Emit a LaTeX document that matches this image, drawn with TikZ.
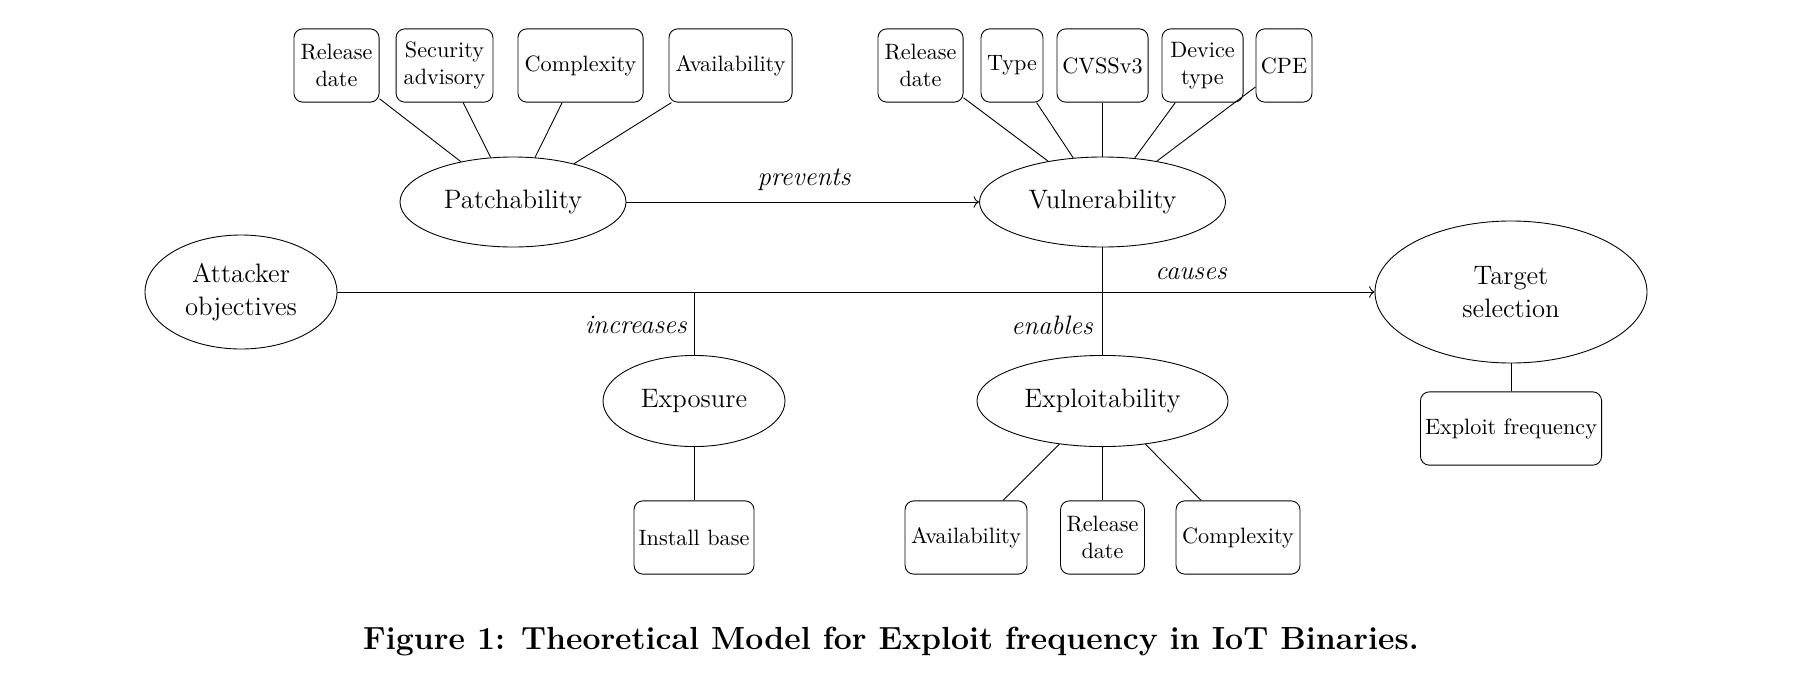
\documentclass[tikz,border=0pt]{standalone}
\usepackage{amsmath}
\usepackage{xcolor}
\usepackage{tikz}
\usetikzlibrary{positioning, arrows.meta, shapes.geometric}

\begin{document}
\begin{tikzpicture}[x=0.45pt, y=-0.45pt,
    concept/.style={draw, ellipse, inner sep=0pt, align=center, font=\fontsize{12}{15}\selectfont},
    attr/.style={draw, rounded corners=4pt, align=center, inner sep=0pt, minimum height=33pt},
    rel/.style={font=\fontsize{12}{14}\selectfont\itshape}]
    \useasboundingbox (0,0) rectangle (1803,683);
    % concepts
    \node[concept, minimum width=101.7pt, minimum height=40.5pt] (patch) at (513,202) {Patchability};
    \node[concept, minimum width=110.7pt, minimum height=40.5pt] (vuln) at (1102.5,202) {Vulnerability};
    \node[concept, minimum width=86.4pt, minimum height=51.3pt] (attacker) at (241,292) {Attacker\\objectives};
    \node[concept, minimum width=122.4pt, minimum height=63.9pt] (target) at (1511,292) {Target\\selection};
    \node[concept, minimum width=81.9pt, minimum height=41pt] (expo) at (694,401) {Exposure};
    \node[concept, minimum width=113pt, minimum height=41pt] (exploit) at (1102.5,401) {Exploitability};
    % attributes of patchability
    \node[attr, minimum width=38.3pt] (p_1) at (336.5,65.5) {Release\\date};
    \node[attr, minimum width=43.6pt] (p_2) at (444.5,65.5) {Security\\advisory};
    \node[attr, minimum width=56.3pt] (p_3) at (580.5,65.5) {Complexity};
    \node[attr, minimum width=55.4pt] (p_4) at (730.5,65.5) {Availability};
    % attributes of vulnerability
    \node[attr, minimum width=38.3pt] (v_1) at (920.5,65.5) {Release\\date};
    \node[attr, minimum width=27.9pt] (v_2) at (1012,65.5) {Type};
    \node[attr, minimum width=41pt] (v_3) at (1102.5,65.5) {CVSSv3};
    \node[attr, minimum width=36.5pt] (v_4) at (1202.5,65.5) {Device\\type};
    \node[attr, minimum width=25.2pt] (v_5) at (1284,65.5) {CPE};
    % attributes below
    \node[attr, minimum width=54pt] (e_1) at (694,537.5) {Install base};
    \node[attr, minimum width=54.9pt] (x_1) at (966,537.5) {Availability};
    \node[attr, minimum width=37.8pt] (x_2) at (1102.5,537.5) {Release\\date};
    \node[attr, minimum width=55.8pt] (x_3) at (1238,537.5) {Complexity};
    \node[attr, minimum width=81.5pt] (t_1) at (1511,428.5) {Exploit frequency};
    % relation labels
    \node[rel] (lbl_prevents) at (804,180) {prevents};
    \node[rel] (lbl_causes) at (1191,274) {causes};
    \node[rel] (lbl_increases) at (636,325) {increases};
    \node[rel] (lbl_enables) at (1052,325) {enables};
    \coordinate (junction) at (694,292);
    % connectors
    \foreach \i in {1,...,4} \draw (p_\i) -- (patch);
    \foreach \i in {1,...,5} \draw (v_\i) -- (vuln);
    \foreach \i in {1,...,3} \draw (x_\i) -- (exploit);
    \draw (e_1) -- (expo);
    \draw (t_1) -- (target);
    \draw[-To] (patch) -- (vuln);
    \draw[-To] (attacker) -- (target);
    \draw (vuln) -- (exploit);
    \draw (junction) -- (expo);
    \node[font=\fontsize{14.4}{17}\selectfont\bfseries] (caption) at (891,642) {Figure 1: Theoretical Model for Exploit frequency in IoT Binaries.};
\end{tikzpicture}
\end{document}
